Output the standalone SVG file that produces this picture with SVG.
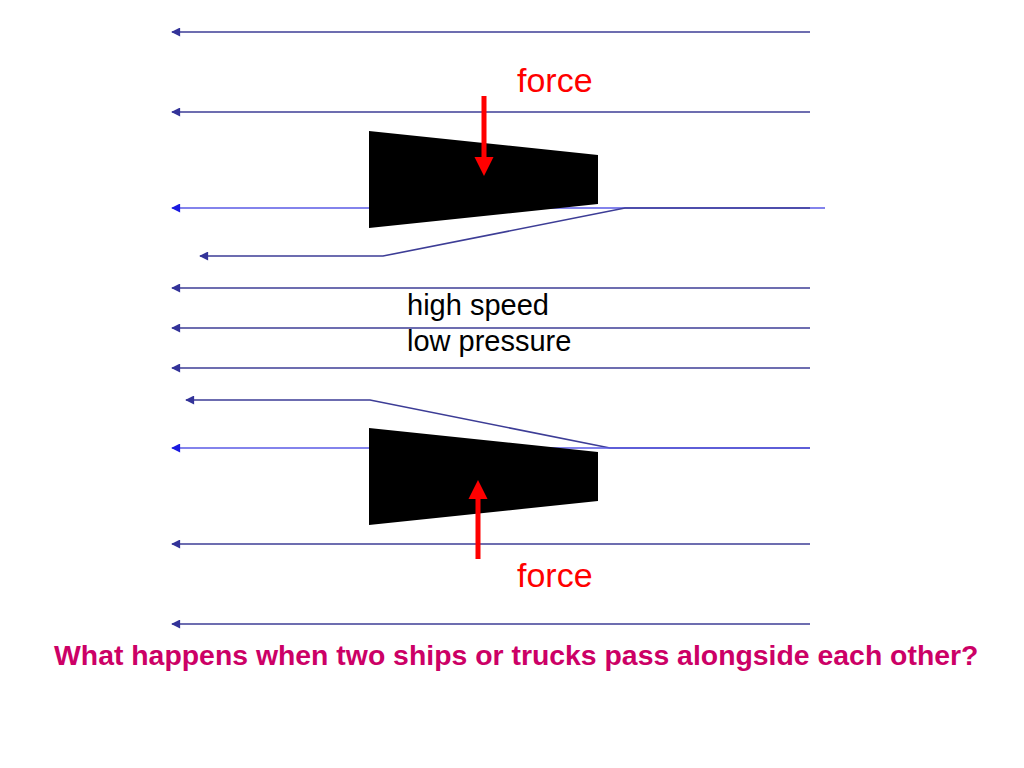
<svg xmlns="http://www.w3.org/2000/svg" width="1024" height="768" viewBox="0 0 1024 768">
<defs>
<style>
.flow{fill:none;stroke:#3d3d96;stroke-width:1.6}
.flowb{fill:none;stroke:#5a5ae6;stroke-width:1.4}
.ship{fill:#000}
.force{fill:#ff0000}
.lbl{font-family:"Liberation Sans",Arial,sans-serif;fill:#000;font-size:29px}
.flbl{font-family:"Liberation Sans",Arial,sans-serif;fill:#ff0000;font-size:34px}
.q{font-family:"Liberation Sans",Arial,sans-serif;fill:#cc0066;font-size:28.4px;font-weight:bold}
</style>
<marker id="ah" viewBox="0 0 10 10" refX="9" refY="5" markerWidth="10" markerHeight="9" markerUnits="userSpaceOnUse" orient="auto">
<path d="M0,0 L10,5 L0,10 z" fill="#333399"/>
</marker>
<marker id="ahb" viewBox="0 0 10 10" refX="9" refY="5" markerWidth="10" markerHeight="9" markerUnits="userSpaceOnUse" orient="auto">
<path d="M0,0 L10,5 L0,10 z" fill="#1a1ae0"/>
</marker>
</defs>
<rect width="1024" height="768" fill="#fff"/>
<g id="connectors">
<path class="flow" d="M810,32 H172" marker-end="url(#ah)"/>
<path class="flow" d="M810,112 H172" marker-end="url(#ah)"/>
<path class="flowb" d="M825,208 H172" marker-end="url(#ahb)"/>
<path class="flow" d="M810,208 H625 L383,256 H200" marker-end="url(#ah)"/>
<path class="flow" d="M810,288 H172" marker-end="url(#ah)"/>
<path class="flow" d="M810,328 H172" marker-end="url(#ah)"/>
<path class="flow" d="M810,368 H172" marker-end="url(#ah)"/>
<path class="flow" d="M810,448 H610 L370,400 H186" marker-end="url(#ah)"/>
<path class="flowb" d="M810,448 H172" marker-end="url(#ahb)"/>
<path class="flow" d="M810,544 H172" marker-end="url(#ah)"/>
<path class="flow" d="M810,624 H172" marker-end="url(#ah)"/>
</g>
<g id="ship-top">
<polygon class="ship" points="369,131 598,155 598,204 369,228"/>
</g>
<g id="ship-bottom">
<polygon class="ship" points="369,428 598,452 598,501 369,525"/>
</g>
<g id="force-top">
<rect class="force" x="481.5" y="96" width="5" height="62"/>
<polygon class="force" points="474.5,157 493.5,157 484,176"/>
<text class="flbl" x="517" y="92">force</text>
</g>
<g id="force-bottom">
<rect class="force" x="475.5" y="498" width="5" height="61"/>
<polygon class="force" points="468.5,499 487.5,499 478,480"/>
<text class="flbl" x="517" y="587">force</text>
</g>
<g id="label-center">
<text class="lbl" x="407" y="315">high speed</text>
<text class="lbl" x="407" y="351">low pressure</text>
</g>
<g id="question">
<text class="q" x="54" y="665">What happens when two ships or trucks pass alongside each other?</text>
</g>
</svg>
